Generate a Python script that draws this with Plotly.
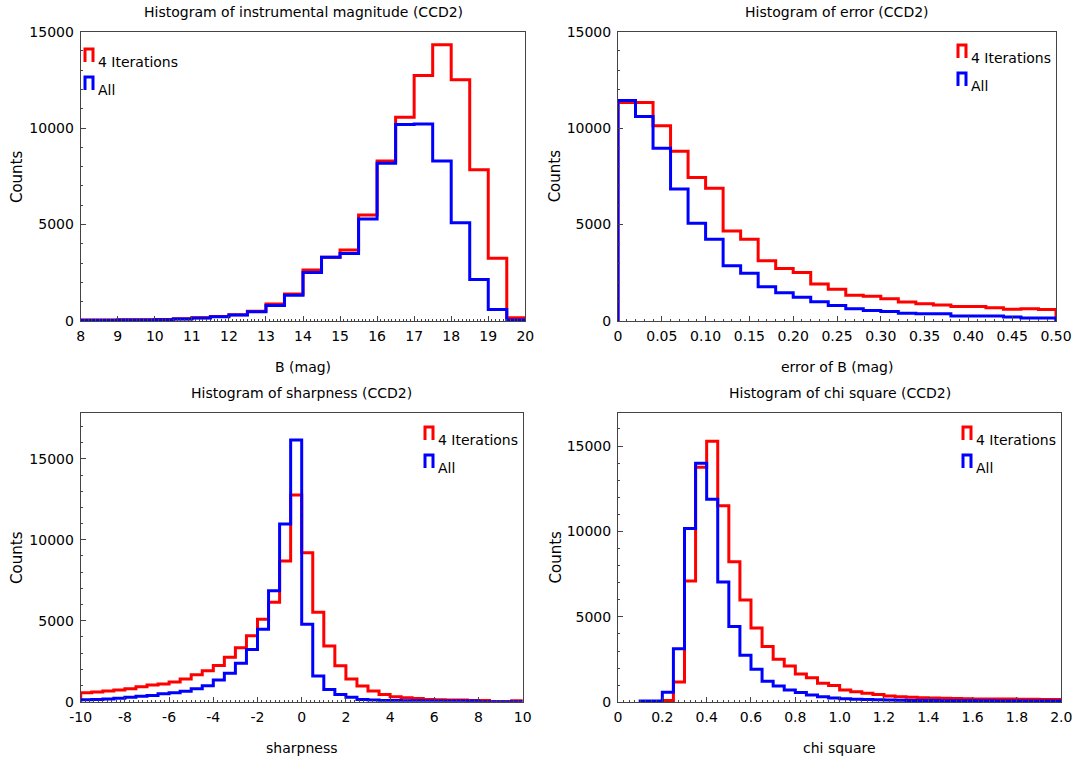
import numpy as np
import plotly.graph_objects as go

# ---------------- data ----------------
# instrumental magnitude, bins of 0.5 mag from 8 to 20
mag_start, mag_width = 8.0, 0.5
mag_iter4 = [50, 50, 60, 60, 80, 120, 170, 230, 320, 500, 880, 1400, 2650, 3300,
             3680, 5500, 8290, 10570, 12730, 14320, 12510, 7840, 3250, 170]
mag_all = [40, 45, 50, 55, 70, 110, 160, 220, 310, 480, 800, 1330, 2520, 3300,
           3500, 5290, 8180, 10190, 10220, 8300, 5090, 2150, 600, 50]

# error of B, bins of 0.02 from 0 to 0.5
err_start, err_width = 0.0, 0.02
err_iter4 = [11330, 11330, 10120, 8800, 7440, 6880, 4670, 4240, 3130, 2720, 2520,
             1920, 1650, 1330, 1280, 1160, 990, 900, 830, 750, 750, 690, 610, 640, 590]
err_all = [11430, 10600, 8960, 6840, 5070, 4240, 2860, 2480, 1780, 1470, 1230, 1000,
           800, 640, 540, 490, 400, 370, 370, 260, 260, 260, 210, 160, 160]

# sharpness, bins of 0.5 from -10 to 10
sh_start, sh_width = -10.0, 0.5
sh_iter4 = [560, 600, 660, 720, 800, 930, 1030, 1090, 1210, 1400, 1670, 1910, 2240,
            2740, 3330, 4080, 5100, 6150, 8690, 12760, 9200, 5520, 3440, 2220, 1400,
            970, 660, 450, 310, 250, 190, 140, 120, 100, 100, 80, 80, 0, 0, 60]
sh_all = [120, 140, 170, 210, 270, 330, 390, 490, 560, 640, 800, 990, 1340, 1750,
          2370, 3230, 4470, 6850, 10970, 16160, 4780, 1590, 760, 450, 270, 140, 100,
          80, 70, 60, 60, 50, 50, 50, 40, 40, 0, 0, 0, 0]

# chi square, bins of 0.05 from 0.1 to 2.0
chi_start, chi_width = 0.1, 0.05
chi_iter4 = [0, 30, 100, 1190, 7100, 13760, 15280, 11510, 8230, 5990, 4350, 3260,
             2520, 2130, 1660, 1440, 1110, 980, 720, 620, 530, 450, 370, 330, 290,
             270, 250, 240, 220, 210, 200, 200, 190, 190, 180, 180, 170, 170]
chi_all = [78, 78, 585, 3140, 10170, 13990, 11880, 7040, 4430, 2750, 1930, 1230,
           960, 720, 570, 430, 330, 250, 215, 176, 160, 145, 130, 120, 110, 105,
           100, 95, 90, 90, 85, 85, 80, 80, 80, 75, 75, 70]

titles = ["Histogram of instrumental magnitude (CCD2)", "Histogram of error (CCD2)",
          "Histogram of sharpness (CCD2)", "Histogram of chi square (CCD2)"]
xlabels = ["B (mag)", "error of B (mag)", "sharpness", "chi square"]
series_names = ["4 Iterations", "All"]
y_tickvals = [0, 5000, 10000, 15000]
y_ticktext = ["0", "5000", "10000", "15000"]

RED = "#ff0000"
BLUE = "#0000ff"
FONT = "DejaVu Sans, sans-serif"
W, H = 1079, 760


def step_xy(start, width, counts):
    n = len(counts)
    edges = start + width * np.arange(n + 1)
    xs = np.concatenate([[edges[0]], edges])
    ys = np.concatenate([[0], counts, [0]])
    return xs, ys


def px(x, y):
    return x / W, 1 - y / H


fig = go.Figure()

panels = [
    (mag_start, mag_width, mag_iter4, mag_all),
    (err_start, err_width, err_iter4, err_all),
    (sh_start, sh_width, sh_iter4, sh_all),
    (chi_start, chi_width, chi_iter4, chi_all),
]

for i, (st, wd, a, b) in enumerate(panels):
    xa = "x" if i == 0 else f"x{i+1}"
    ya = "y" if i == 0 else f"y{i+1}"
    for cnt, col, nm in [(a, RED, series_names[0]), (b, BLUE, series_names[1])]:
        xs, ys = step_xy(st, wd, cnt)
        fig.add_trace(go.Scatter(x=xs, y=ys, mode="lines", line=dict(color=col, width=3, shape="hv"),
                                 name=nm, xaxis=xa, yaxis=ya, showlegend=False))

# pixel geometry of the four panels (left, right, top, bottom)
boxes = [(80.7, 525.3, 31.7, 321.0), (618.0, 1056.0, 31.7, 321.0),
         (80.7, 522.7, 412.7, 701.7), (618.0, 1061.3, 412.7, 702.3)]
xranges = [[8, 20], [0, 0.5], [-10, 10], [0, 2.0]]
yranges = [[0, 15000], [0, 15000], [0, 17850], [0, 16950]]
xticks = [
    (list(range(8, 21)), [str(v) for v in range(8, 21)]),
    ([0, 0.05, 0.1, 0.15, 0.2, 0.25, 0.3, 0.35, 0.4, 0.45, 0.5],
     ["0", "0.05", "0.10", "0.15", "0.20", "0.25", "0.30", "0.35", "0.40", "0.45", "0.50"]),
    (list(range(-10, 11, 2)), [str(v) for v in range(-10, 11, 2)]),
    ([0, 0.2, 0.4, 0.6, 0.8, 1.0, 1.2, 1.4, 1.6, 1.8, 2.0],
     ["0", "0.2", "0.4", "0.6", "0.8", "1.0", "1.2", "1.4", "1.6", "1.8", "2.0"]),
]
xminor = [0.1, 0.01, 0.2, 0.025]

layout = dict(width=W, height=H, autosize=False,
              margin=dict(l=0, r=0, t=0, b=0, pad=0, autoexpand=False),
              paper_bgcolor="white", plot_bgcolor="white",
              font=dict(family=FONT, size=14, color="black"), showlegend=False)

for i in range(4):
    l, r, t, b = boxes[i]
    xk = "xaxis" if i == 0 else f"xaxis{i+1}"
    yk = "yaxis" if i == 0 else f"yaxis{i+1}"
    ya = "y" if i == 0 else f"y{i+1}"
    xa = "x" if i == 0 else f"x{i+1}"
    layout[xk] = dict(domain=[l / W, r / W], range=xranges[i], anchor=ya, automargin=False,
                      showline=True, mirror=True, linecolor="#444", linewidth=1,
                      showgrid=False, zeroline=False,
                      tickmode="array", tickvals=xticks[i][0], ticktext=xticks[i][1],
                      ticks="inside", ticklen=5, tickcolor="#444", ticklabelstandoff=2,
                      minor=dict(ticks="inside", ticklen=2, dtick=xminor[i], tick0=xranges[i][0],
                                 tickcolor="#444", showgrid=False),
                      tickfont=dict(size=14, family=FONT))
    layout[yk] = dict(domain=[1 - b / H, 1 - t / H], range=yranges[i], anchor=xa, automargin=False,
                      showline=True, mirror=True, linecolor="#444", linewidth=1,
                      showgrid=False, zeroline=False,
                      tickmode="array", tickvals=y_tickvals, ticktext=y_ticktext,
                      ticks="inside", ticklen=5, tickcolor="#444", ticklabelstandoff=3,
                      minor=dict(ticks="inside", ticklen=2, dtick=1000, tick0=0,
                                 tickcolor="#444", showgrid=False),
                      tickfont=dict(size=14, family=FONT))

fig.update_layout(**layout)

annotations = []
shapes = []
for i in range(4):
    l, r, t, b = boxes[i]
    cx = (l + r) / 2
    # title
    x0, y0 = px(cx, t - 20)
    annotations.append(dict(text=titles[i], x=x0, y=y0, xref="paper", yref="paper",
                            xanchor="center", yanchor="middle", showarrow=False,
                            font=dict(size=14, family=FONT)))
    # x label
    x0, y0 = px(cx, b + 46)
    annotations.append(dict(text=xlabels[i], x=x0, y=y0, xref="paper", yref="paper",
                            xanchor="center", yanchor="middle", showarrow=False,
                            font=dict(size=14, family=FONT)))
    # y label
    x0, y0 = px(l - 63, (t + b) / 2)
    annotations.append(dict(text="Counts", x=x0, y=y0, xref="paper", yref="paper",
                            xanchor="center", yanchor="middle", showarrow=False, textangle=-90,
                            font=dict(size=15, family=FONT)))

# legends: (marker left x, first row top y)
legend_pos = [(85, 49), (958, 45), (425, 427), (963, 427)]
for (lx, ly) in legend_pos:
    for k, (nm, col) in enumerate(zip(series_names, [RED, BLUE])):
        top = ly + k * 28
        bot = top + 13
        x1, y1 = px(lx, bot)
        x2, y2 = px(lx, top)
        x3, y3 = px(lx + 8, top)
        x4, y4 = px(lx + 8, bot)
        shapes.append(dict(type="path", xref="paper", yref="paper",
                           path=f"M {x1},{y1} L {x2},{y2} L {x3},{y3} L {x4},{y4}",
                           line=dict(color=col, width=3)))
        tx, ty = px(lx + 11, top + 13)
        annotations.append(dict(text=nm, x=tx, y=ty, xref="paper", yref="paper",
                                xanchor="left", yanchor="middle", showarrow=False,
                                font=dict(size=14, family=FONT)))

fig.update_layout(annotations=annotations, shapes=shapes)
fig.write_html("out.html")
